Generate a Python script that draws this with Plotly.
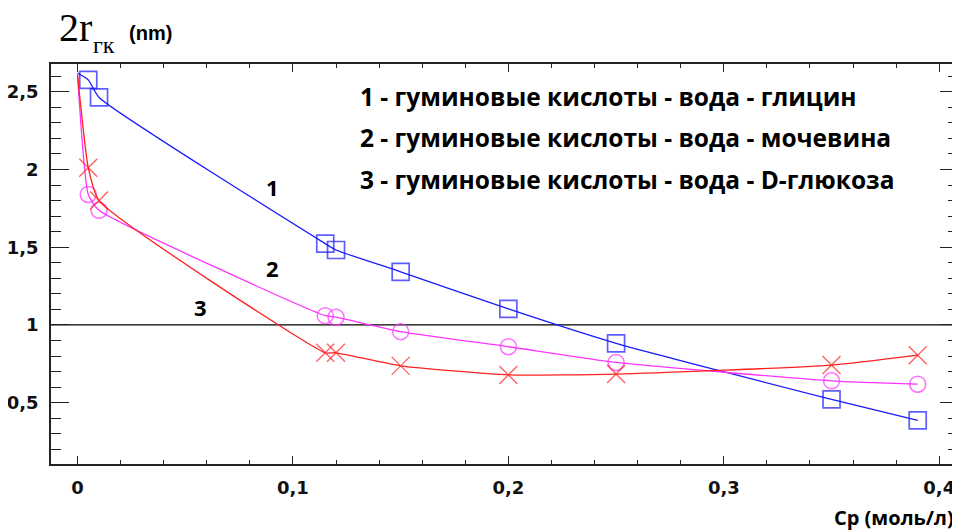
import plotly.graph_objects as go

# ---- data ----
x_vals = [0.0, 0.005, 0.01, 0.115, 0.12, 0.15, 0.2, 0.25, 0.35, 0.39]
y_glycine = [2.62, 2.576, 2.463, 1.523, 1.482, 1.342, 1.103, 0.882, 0.521, 0.387]
y_urea = [2.61, 1.839, 1.737, 1.060, 1.050, 0.957, 0.860, 0.759, 0.641, 0.619]
y_glucose = [2.61, 2.011, 1.800, 0.821, 0.821, 0.737, 0.679, 0.684, 0.742, 0.806]
marker_shown = [0, 1, 1, 1, 1, 1, 1, 1, 1, 1]

x_ticks = [0, 0.1, 0.2, 0.3, 0.4]
x_ticklabels = ["0", "0,1", "0,2", "0,3", "0,4"]
y_ticks = [0.5, 1, 1.5, 2, 2.5]
y_ticklabels = ["0,5", "1", "1,5", "2", "2,5"]

legend_lines = [
    "1 - гуминовые кислоты - вода - глицин",
    "2 - гуминовые кислоты - вода - мочевина",
    "3 - гуминовые кислоты - вода - D-глюкоза",
]
curve_labels = ["1", "2", "3"]

BLUE = "#1a1aff"
MAG = "#ff33ff"
RED = "#ff2020"

# page offset of the figure (default body margin of the html page)
OFF = 8
PAGE_W, PAGE_H = 960, 531
W, H = PAGE_W - OFF, PAGE_H - OFF
# plot area in page pixels
L, R, T, B = 51, 958, 64, 464

def px(xp):
    return (xp - L) / (R - L)

def py(yp):
    return (B - yp) / (B - T)

fig = go.Figure()

# reference horizontal line at 1
fig.add_trace(go.Scatter(x=[-0.02, 0.42], y=[1, 1], mode="lines",
                         line=dict(color="black", width=1.3),
                         hoverinfo="skip", showlegend=False))

def add_series(y, color, symbol, size, lw_marker):
    fig.add_trace(go.Scatter(
        x=x_vals, y=y, mode="lines+markers",
        line=dict(color=color, width=1.3, shape="spline", smoothing=0.5),
        marker=dict(symbol=symbol, size=[s * size for s in marker_shown],
                    color=color, line=dict(color=color, width=lw_marker)),
        showlegend=False))

add_series(y_glycine, BLUE, "square-open", 17, 1.7)
add_series(y_urea, MAG, "circle-open", 16, 1.5)
add_series(y_glucose, RED, "x-thin-open", 18, 1.4)

fig.update_layout(
    xaxis=dict(
        range=[-0.0123, 0.4087], showline=True, linecolor="#222222", linewidth=1.5,
        mirror="ticks", ticks="inside", ticklen=8, tickwidth=1.2, tickcolor="#222222",
        tickmode="array", tickvals=x_ticks, ticktext=["<b>%s</b>" % t for t in x_ticklabels],
        tickfont=dict(family="DejaVu Sans", size=18, color="#111111", weight="bold"),
        minor=dict(dtick=0.02, tick0=0, ticks="inside", ticklen=4, tickwidth=1.2, tickcolor="#222222"),
        showgrid=False, zeroline=False, ticklabelstandoff=7, automargin=False,
    ),
    yaxis=dict(
        range=[0.106, 2.678], showline=True, linecolor="#222222", linewidth=1.5,
        mirror="ticks", ticks="inside", ticklen=18, tickwidth=1.2, tickcolor="#222222",
        tickmode="array", tickvals=y_ticks, ticktext=["<b>%s</b>" % t for t in y_ticklabels],
        tickfont=dict(family="DejaVu Sans", size=18, color="#111111", weight="bold"),
        minor=dict(dtick=0.1, tick0=0, ticks="inside", ticklen=10, tickwidth=1.2, tickcolor="#222222"),
        showgrid=False, zeroline=False, ticklabelstandoff=7, automargin=False,
    ),
)

annotations = []
legend_y = [2.47, 2.207, 1.937]
for txt, yy in zip(legend_lines, legend_y):
    annotations.append(dict(x=0.1303, y=yy, xref="x", yref="y", text="<b>" + txt + "</b>",
                            showarrow=False, xanchor="left", yanchor="middle",
                            font=dict(family="Open Sans", size=24.5, color="black")))
for txt, xx, yy in zip(curve_labels, [0.0907, 0.0907, 0.0572], [1.884, 1.368, 1.116]):
    annotations.append(dict(x=xx, y=yy, xref="x", yref="y", text="<b>" + txt + "</b>",
                            showarrow=False, xanchor="center", yanchor="middle",
                            font=dict(family="Open Sans", size=22, color="black")))

# y-axis title pieces
annotations.append(dict(x=px(57), y=py(28), xref="paper", yref="paper",
                        text="2r", showarrow=False, xanchor="left", yanchor="middle",
                        font=dict(family="Liberation Serif", size=40, color="black")))
annotations.append(dict(x=px(91), y=py(45), xref="paper", yref="paper",
                        text="гк", showarrow=False, xanchor="left", yanchor="middle",
                        font=dict(family="Liberation Serif", size=24, color="black")))
annotations.append(dict(x=px(127), y=py(33), xref="paper", yref="paper",
                        text="<b>(nm)</b>", showarrow=False, xanchor="left", yanchor="middle",
                        font=dict(family="Liberation Sans", size=20, color="black")))
# x-axis title
annotations.append(dict(x=px(956), y=py(517), xref="paper", yref="paper",
                        text="<b>Cp (моль/л)</b>", showarrow=False, xanchor="right", yanchor="middle",
                        font=dict(family="Open Sans", size=20, color="black")))

fig.update_layout(
    width=W, height=H,
    margin=dict(l=L - OFF, r=PAGE_W - R, t=T - OFF, b=PAGE_H - B, autoexpand=False),
    paper_bgcolor="white", plot_bgcolor="white",
    annotations=annotations,
    showlegend=False,
)

fig.write_html("out.html")
